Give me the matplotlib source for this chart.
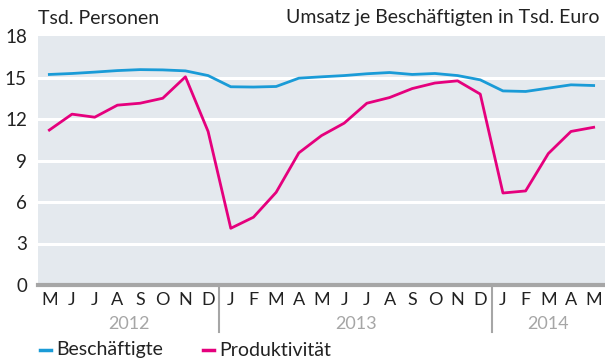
import matplotlib.pyplot as plt
from matplotlib.lines import Line2D

months = ["M", "J", "J", "A", "S", "O", "N", "D",
          "J", "F", "M", "A", "M", "J", "J", "A", "S", "O", "N", "D",
          "J", "F", "M", "A", "M"]
years = ["2012", "2013", "2014"]
year_spans = [(0, 7), (8, 19), (20, 24)]

beschaeftigte = [15.22, 15.29, 15.39, 15.50, 15.57, 15.55, 15.48, 15.14,
                 14.33, 14.31, 14.35, 14.95, 15.05, 15.14, 15.27, 15.36,
                 15.22, 15.29, 15.14, 14.83, 14.03, 13.99, 14.23, 14.47, 14.42]
produktivitaet = [11.2, 12.35, 12.13, 13.0, 13.14, 13.5, 15.05, 11.1,
                  4.1, 4.9, 6.7, 9.55, 10.8, 11.7, 13.14, 13.55,
                  14.2, 14.6, 14.76, 13.8, 6.65, 6.8, 9.5, 11.1, 11.4]
y_ticks = [0, 3, 6, 9, 12, 15, 18]

BLUE = "#1a9bd7"
PINK = "#e5007d"
BG = "#e4e9ee"
GREY = "#a6a6a6"

plt.rcParams["font.family"] = ["Lato", "DejaVu Sans"]

fig = plt.figure(figsize=(6.05, 3.63), dpi=100)
ax = fig.add_axes([38 / 605, 1 - 285 / 363, 567 / 605, 249 / 363])
ax.set_facecolor(BG)

x = list(range(len(months)))
for v in y_ticks[1:-1]:
    ax.axhline(v, color="white", lw=2.2, zorder=1)
ax.plot(x, beschaeftigte, color=BLUE, lw=2.0, zorder=3)
ax.plot(x, produktivitaet, color=PINK, lw=2.0, zorder=3)

ax.set_xlim(-0.5, 24.5)
ax.set_ylim(0, 18)
for s in ax.spines.values():
    s.set_visible(False)
ax.axhline(0, color=GREY, lw=3, zorder=4, clip_on=False)

ax.set_yticks(y_ticks)
ax.set_yticklabels([str(v) for v in y_ticks], fontsize=13.5, color="#222222")
ax.tick_params(axis="y", length=0, pad=8)
ax.set_xticks([])

trans = ax.get_xaxis_transform()
for i, m in enumerate(months):
    ax.text(i, -0.06, m, transform=trans, ha="center", va="center",
            fontsize=13, color="#222222")
for label, (a, b) in zip(years, year_spans):
    ax.text((a + b) / 2, -0.155, label, transform=trans, ha="center",
            va="center", fontsize=13, color=GREY)
for sep in (7.5, 19.5):
    ax.add_line(Line2D([sep, sep], [0, -0.19], transform=trans,
                       color=GREY, lw=1.5, clip_on=False))

fig.text(38 / 605, 1 - 18 / 363, "Tsd. Personen", ha="left", va="center",
         fontsize=14, color="#222222")
fig.text(600 / 605, 1 - 18 / 363, "Umsatz je Beschäftigten in Tsd. Euro",
         ha="right", va="center", fontsize=14, color="#222222")

# legend drawn by hand: short dash + label
for x0, col, lab in ((40, BLUE, "Beschäftigte"), (203, PINK, "Produktivität")):
    fig.add_artist(Line2D([x0 / 605, (x0 + 11) / 605],
                          [1 - 350 / 363, 1 - 350 / 363],
                          color=col, lw=2.5))
    fig.text((x0 + 16) / 605, 1 - 350 / 363, lab, ha="left", va="center",
             fontsize=14, color="#222222")

fig.savefig("out.png", dpi=100)
